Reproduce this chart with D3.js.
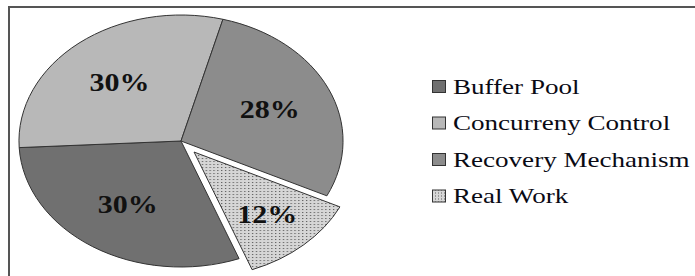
<!DOCTYPE html>
<style>
body { margin: 0; background: #fff; }
text { font-family: "Liberation Serif", "Times New Roman", serif; }
</style>
<svg width="695" height="276"></svg>
<script src="https://d3js.org/d3.v7.min.js"></script>
<script>
var categories = ["Buffer Pool", "Concurreny Control", "Recovery Mechanism", "Real Work"];
var shares = [30, 30, 28, 12];
var labels = ["30%", "30%", "28%", "12%"];
var exploded = [false, false, false, true];

var svg = d3.select("svg");

// frame (only top/left are inside the picture)
svg.append("rect")
    .attr("x", 9).attr("y", 7)
    .attr("width", 720).attr("height", 300)
    .attr("fill", "none")
    .attr("stroke", "#555")
    .attr("stroke-width", 2);

var defs = svg.append("defs");
var pat = defs.append("pattern")
    .attr("id", "dots")
    .attr("width", 3).attr("height", 3)
    .attr("patternUnits", "userSpaceOnUse");
pat.append("rect").attr("width", 3).attr("height", 3).attr("fill", "#d6d6d6");
pat.append("rect").attr("width", 1).attr("height", 1).attr("fill", "#5a5a5a");

var colors = d3.scaleOrdinal()
    .domain(categories)
    .range(["#707070", "#b8b8b8", "#8c8c8c", "url(#dots)"]);

var cx = 181, cy = 141, radius = 126, sx = 1.286;
var start = 159 * Math.PI / 180;

var pie = d3.pie().sort(null)
    .startAngle(start).endAngle(start + 2 * Math.PI)
    .value(function(d) { return d; });

var arc = d3.arc().innerRadius(0).outerRadius(radius);
var arcs = pie(shares);

var g = svg.append("g")
    .attr("transform", "translate(" + cx + "," + cy + ") scale(" + sx + ",1)");

function shift(d, r) {
  var a = (d.startAngle + d.endAngle) / 2;
  return [Math.sin(a) * r, -Math.cos(a) * r];
}

g.selectAll("path")
    .data(arcs)
    .enter().append("path")
    .attr("d", arc)
    .attr("transform", function(d, i) {
      var o = exploded[i] ? shift(d, 15) : [0, 0];
      return "translate(" + o[0] + "," + o[1] + ")";
    })
    .attr("fill", function(d, i) { return colors(categories[i]); })
    .attr("stroke", "#333")
    .attr("stroke-width", 1)
    .attr("vector-effect", "non-scaling-stroke");

svg.append("g").selectAll("text")
    .data(arcs)
    .enter().append("text")
    .attr("transform", function(d, i) {
      var p = shift(d, exploded[i] ? 99 : 76);
      return "translate(" + (cx + p[0] * sx) + "," + (cy + p[1]) + ") scale(1.2,1)";
    })
    .attr("text-anchor", "middle")
    .attr("dy", "0.35em")
    .attr("font-size", 25)
    .attr("font-weight", "bold")
    .attr("fill", "#111")
    .text(function(d, i) { return labels[i]; });

var legend = svg.append("g")
  .selectAll("g")
  .data(categories)
  .enter().append("g")
    .attr("transform", function(d, i) { return "translate(432," + (86 + i * 36.5) + ")"; });

legend.append("rect")
    .attr("x", 0.5).attr("y", -5.5)
    .attr("width", 13).attr("height", 12)
    .attr("fill", colors)
    .attr("stroke", "#333");

legend.append("text")
    .attr("transform", "translate(21,7.5) scale(1.23,1)")
    .attr("font-size", 22)
    .attr("fill", "#0a0a14")
    .text(function(d) { return d; });
</script>
